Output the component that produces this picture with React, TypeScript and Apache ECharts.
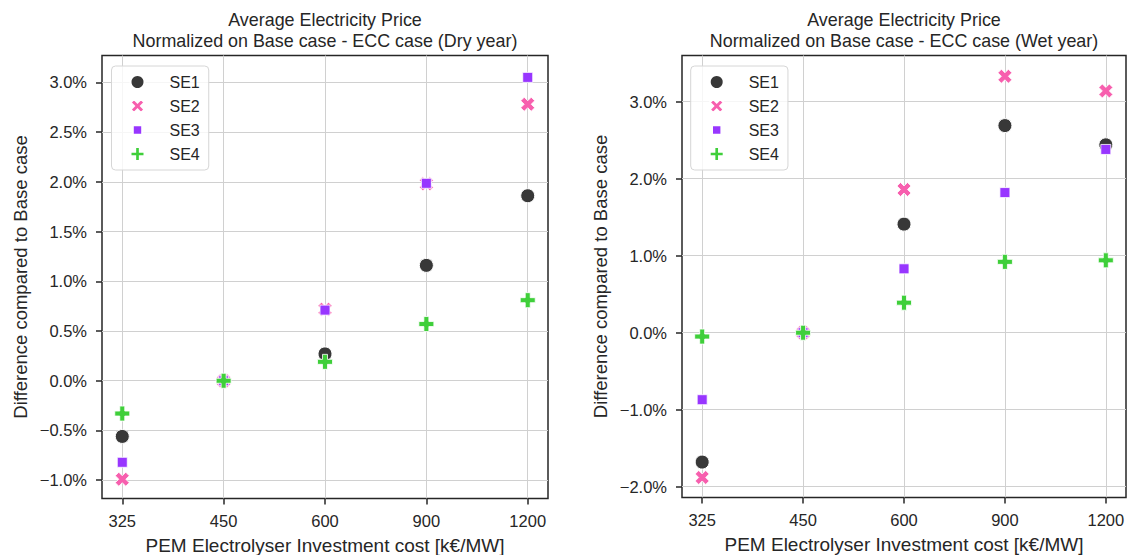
import React, { useEffect, useRef } from "react";
import * as echarts from "echarts";

const categories = ["325", "450", "600", "900", "1200"];
const seriesNames = ["SE1", "SE2", "SE3", "SE4"];

const drySE1 = [-0.56, 0.0, 0.27, 1.16, 1.86];
const drySE2 = [-0.99, 0.0, 0.72, 1.98, 2.78];
const drySE3 = [-0.82, 0.0, 0.71, 1.985, 3.05];
const drySE4 = [-0.33, 0.0, 0.19, 0.57, 0.81];

const wetSE1 = [-1.68, 0.0, 1.41, 2.69, 2.44];
const wetSE2 = [-1.88, 0.0, 1.86, 3.33, 3.14];
const wetSE3 = [-0.87, 0.0, 0.83, 1.82, 2.38];
const wetSE4 = [-0.05, 0.0, 0.39, 0.92, 0.94];

const dryTicks = [-1.0, -0.5, 0.0, 0.5, 1.0, 1.5, 2.0, 2.5, 3.0];
const wetTicks = [-2.0, -1.0, 0.0, 1.0, 2.0, 3.0];

const titleDry = "Average Electricity Price\nNormalized on Base case - ECC case (Dry year)";
const titleWet = "Average Electricity Price\nNormalized on Base case - ECC case (Wet year)";
const xName = "PEM Electrolyser Investment cost [k\u20ac/MW]";
const yName = "Difference compared to Base case";

const FONT = "'Liberation Sans', Arial, Helvetica, sans-serif";
const TXT = "#262626";

const colors = ["#383838", "#f75fae", "#9836ff", "#3fcf3a"];
const xPath = "path://M2,-4L4,-2L2,0L4,2L2,4L0,2L-2,4L-4,2L-2,0L-4,-2L-2,-4L0,-2Z";
const plusPath = "path://M-1,-3L1,-3L1,-1L3,-1L3,1L1,1L1,3L-1,3L-1,1L-3,1L-3,-1L-1,-1Z";
const symbols = ["circle", xPath, "rect", plusPath];
const sizes = [14, 14, 10, 15];
const legendIcons = [
  "circle",
  xPath,
  "path://M0,0M14,14M2.3,2.3L11.7,2.3L11.7,11.7L2.3,11.7Z",
  plusPath,
];

const fmtPct = (v: number) => {
  const s = Math.abs(v).toFixed(1) + "%";
  return v < -1e-9 ? "\u2212" + s : s;
};

function App() {
  const ref = useRef<HTMLDivElement>(null);
  useEffect(() => {
    if (!ref.current) return;
    const chart = echarts.init(ref.current, undefined, { renderer: "svg" });
    const dry = [drySE1, drySE2, drySE3, drySE4];
    const wet = [wetSE1, wetSE2, wetSE3, wetSE4];

    const mkX = (gridIndex: number) => ({
      type: "value" as const,
      gridIndex,
      min: -0.2,
      max: 4.2,
      name: xName,
      nameLocation: "middle" as const,
      nameGap: 37,
      nameTextStyle: { fontSize: 19, color: TXT, fontFamily: FONT },
      axisLine: { show: false, onZero: false },
      axisTick: {
        show: true,
        length: 6,
        customValues: [0, 1, 2, 3, 4],
        lineStyle: { color: TXT, width: 1.5 },
      },
      axisLabel: {
        customValues: [0, 1, 2, 3, 4],
        formatter: (v: number) => categories[Math.round(v)] ?? "",
        fontSize: 16.5,
        color: TXT,
        fontFamily: FONT,
        margin: 14,
      },
      splitLine: { show: true, lineStyle: { color: "#d0d0d0", width: 1 } },
    });

    const mkY = (gridIndex: number, min: number, max: number, ticks: number[], gap: number) => ({
      type: "value" as const,
      gridIndex,
      min,
      max,
      name: yName,
      nameLocation: "middle" as const,
      nameGap: gap,
      nameTextStyle: { fontSize: 18.5, color: TXT, fontFamily: FONT },
      axisLine: { show: false, onZero: false },
      axisTick: {
        show: true,
        length: 6,
        customValues: ticks,
        lineStyle: { color: TXT, width: 1.5 },
      },
      axisLabel: {
        customValues: ticks,
        formatter: fmtPct,
        fontSize: 16.5,
        color: TXT,
        fontFamily: FONT,
        margin: 15,
      },
      splitLine: { show: true, lineStyle: { color: "#d0d0d0", width: 1 } },
    });

    const series: any[] = [];
    [dry, wet].forEach((set, gi) => {
      set.forEach((vals, si) => {
        series.push({
          type: "scatter",
          name: seriesNames[si],
          xAxisIndex: gi,
          yAxisIndex: gi,
          symbol: symbols[si],
          symbolSize: sizes[si],
          itemStyle: {
            color: colors[si],
            borderColor: "#ffffff",
            borderWidth: si === 0 ? 1 : 0.8,
            opacity: 1,
          },
          emphasis: { disabled: true },
          data: vals.map((v, i) => [i, v]),
        });
      });
    });

    const mkLegend = (left: number) => ({
      orient: "vertical" as const,
      left,
      top: 66,
      padding: [8, 9, 8, 18],
      itemWidth: 22,
      itemHeight: 14,
      itemGap: 8,
      backgroundColor: "rgba(255,255,255,0.8)",
      borderColor: "#d6d6d6",
      borderWidth: 1,
      borderRadius: 4,
      selectedMode: false,
      textStyle: {
        fontSize: 16,
        color: TXT,
        fontFamily: FONT,
        lineHeight: 16,
        padding: [0, 0, 0, 16],
      },
      data: seriesNames.map((n, i) => ({ name: n, icon: legendIcons[i] })),
    });

    const titleStyle = {
      fontSize: 17.9,
      fontWeight: "normal" as const,
      color: TXT,
      fontFamily: FONT,
      lineHeight: 21.5,
    };

    const gridBase = {
      show: true,
      borderColor: TXT,
      borderWidth: 1.5,
      backgroundColor: "transparent",
      containLabel: false,
      outerBoundsMode: "none",
    };

    chart.setOption({
      animation: false,
      backgroundColor: "#ffffff",
      textStyle: { fontFamily: FONT },
      title: [
        { text: titleDry, left: 325, top: 9, padding: 0, textAlign: "center", textStyle: titleStyle },
        { text: titleWet, left: 904, top: 9, padding: 0, textAlign: "center", textStyle: titleStyle },
      ],
      grid: [
        { ...gridBase, left: 102, top: 55.5, width: 446, height: 443 },
        { ...gridBase, left: 682, top: 55.5, width: 444, height: 442 },
      ],
      xAxis: [mkX(0), mkX(1)],
      yAxis: [mkY(0, -1.184, 3.27, dryTicks, 72), mkY(1, -2.14, 3.6, wetTicks, 72)],
      legend: [mkLegend(111.5), mkLegend(690.7)],
      series,
    });
    return () => chart.dispose();
  }, []);
  return (
    <div
      ref={ref}
      style={{ position: "fixed", left: 0, top: 0, width: 1129, height: 555, background: "#fff" }}
    />
  );
}

export default App;
